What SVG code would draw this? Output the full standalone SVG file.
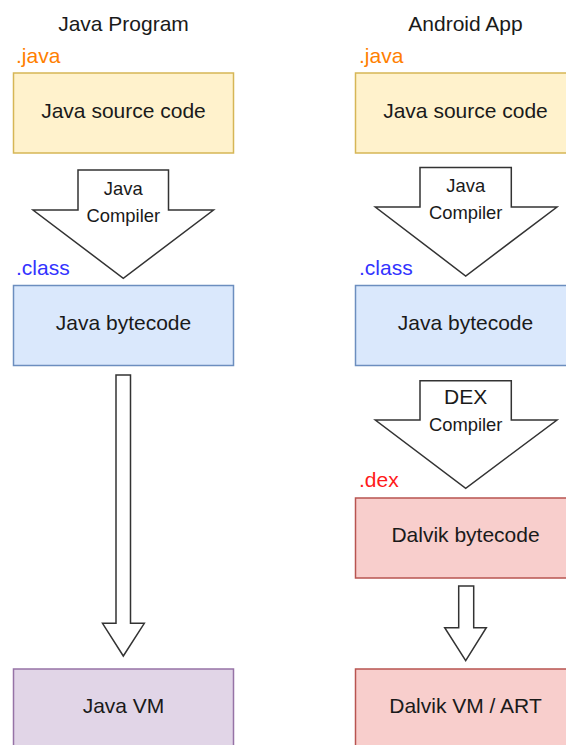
<svg xmlns="http://www.w3.org/2000/svg" width="566" height="745" viewBox="0 0 566 745">
<style>
text{font-family:"Liberation Sans",Arial,Helvetica,sans-serif;fill:#1a1a1a}
.t{font-size:21px;text-anchor:middle}
.s{font-size:18.4px;text-anchor:middle}
.ext{font-size:21px}
.box{stroke-width:1.5}
.yel{fill:#fff2cc;stroke:#d6b656}
.blu{fill:#dae8fc;stroke:#6c8ebf}
.red{fill:#f8cecc;stroke:#b85450}
.pur{fill:#e1d5e7;stroke:#9673a6}
.arr{fill:#fff;stroke:#333;stroke-width:1.5;stroke-linejoin:miter}
</style>
<rect width="566" height="745" fill="#fff"/>
<g id="titles">
<text class="t" x="123.5" y="30.5">Java Program</text>
<text class="t" x="465.5" y="30.5">Android App</text>
</g>
<g id="ext-labels">
<text class="ext" x="16" y="62.5" style="fill:#ff8000">.java</text>
<text class="ext" x="359" y="62.5" style="fill:#ff8000">.java</text>
<text class="ext" x="16" y="274.5" style="fill:#3333ff">.class</text>
<text class="ext" x="359" y="274.5" style="fill:#3333ff">.class</text>
<text class="ext" x="359" y="486.5" style="fill:#ff1a1a">.dex</text>
</g>
<g id="java-src-l"><rect class="box yel" x="13.5" y="73" width="220" height="80"/><text class="t" x="123.5" y="118.3">Java source code</text></g>
<g id="java-bc-l"><rect class="box blu" x="13.5" y="285.5" width="220" height="80"/><text class="t" x="123.5" y="330">Java bytecode</text></g>
<g id="java-vm"><rect class="box pur" x="13.5" y="669" width="220" height="80"/><text class="t" x="123.5" y="713.3">Java VM</text></g>
<g id="java-src-r"><rect class="box yel" x="355.5" y="73" width="220" height="80"/><text class="t" x="465.5" y="118.3">Java source code</text></g>
<g id="java-bc-r"><rect class="box blu" x="355.5" y="285.5" width="220" height="80"/><text class="t" x="465.5" y="330">Java bytecode</text></g>
<g id="dalvik-bc"><rect class="box red" x="355.5" y="498" width="220" height="80"/><text class="t" x="465.5" y="541.7">Dalvik bytecode</text></g>
<g id="dalvik-vm"><rect class="box red" x="355.5" y="669" width="220" height="80"/><text class="t" x="465.5" y="713.3">Dalvik VM / ART</text></g>
<g id="connectors">
<g id="java-compiler-l">
<path class="arr" d="M78,170 H168.5 V210 H213.5 L123.3,278.3 L33,210 H78 Z"/>
<text class="s" x="123.3" y="195">Java</text>
<text class="s" x="123.3" y="221.5">Compiler</text>
</g>
<path class="arr" d="M116,375 H130.5 V623.3 H144.3 L123.3,656 L102.5,623.3 H116 Z"/>
<g id="java-compiler-r">
<path class="arr" d="M420,167.5 H511.3 V207 H557 L465.7,276 L375.3,207 H420 Z"/>
<text class="s" x="465.7" y="191.7">Java</text>
<text class="s" x="465.7" y="219.3">Compiler</text>
</g>
<g id="dex-compiler">
<path class="arr" d="M420,380.7 H511.3 V420 H557 L465.7,488.3 L375.3,420 H420 Z"/>
<text class="t" x="465.7" y="404.3">DEX</text>
<text class="s" x="465.7" y="431">Compiler</text>
</g>
<path class="arr" d="M458.7,586 H473.7 V627.7 H486.3 L465.7,660.7 L444.7,627.7 H458.7 Z"/>
</g>
</svg>
